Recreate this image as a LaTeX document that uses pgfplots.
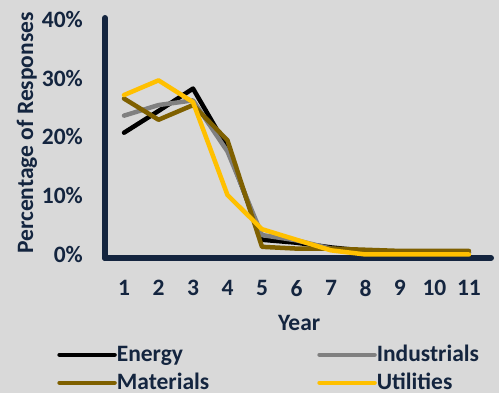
\documentclass[border=0pt]{standalone}
\usepackage{pgfplots}
\pgfplotsset{compat=1.18}
\usepackage{fontspec}
\setmainfont{Carlito}[BoldFont={Carlito Bold}]
\definecolor{bg}{HTML}{D9D9D9}
\definecolor{navy}{HTML}{14253F}
\definecolor{cEnergy}{HTML}{000000}
\definecolor{cInd}{HTML}{808080}
\definecolor{cMat}{HTML}{7F6000}
\definecolor{cUtil}{HTML}{FFC000}
\begin{document}
\begin{tikzpicture}
\fill[bg] (-105bp,-135bp) rectangle (394bp,258bp);
\begin{axis}[
  at={(0,0)}, anchor=south west,
  scale only axis, width=386bp, height=240bp,
  xmin=0.448, xmax=11.64, ymin=-0.6, ymax=40.2,
  axis x line=bottom, axis y line=left,
  axis line style={-, line width=6bp, draw=navy},
  xtick={1,...,11}, ytick={0,10,20,30,40},
  major tick length=0pt,
  font=\fontsize{23.5bp}{28bp}\selectfont\bfseries,
  every tick label/.append style={text=navy, inner sep=0pt},
  yticklabel={\pgfmathprintnumber{\tick}\%},
  /pgf/number format/assume math mode=true,
  yticklabel shift=22bp, xticklabel shift=22bp,
  xlabel={Year}, ylabel={Percentage of Responses},
  label style={text=navy},
  xlabel style={at={(axis description cs:0.503,-0.271)}, anchor=center},
  ylabel style={at={(axis description cs:-0.202,0.521)}, anchor=center, rotate=0},
  line join=round, line cap=round,
  every axis plot/.append style={line width=4.5bp, no markers},
  legend columns=2,
  legend cell align=left,
  legend image code/.code={\draw[#1, line cap=round] (0bp,0bp) -- (55bp,0bp);},
  legend style={draw=none, fill=none, at={(axis description cs:-0.124,-0.365)}, anchor=north west,
    inner sep=0pt, text=navy,
    nodes={inner sep=0pt, text=navy, text height=16bp, text depth=2bp},
    /tikz/every odd column/.append style={column sep=0bp},
    /tikz/every even column/.append style={column sep=108bp},
    row sep=10bp},
]
\addplot[cEnergy] coordinates {(1,20.7) (2,24.4) (3,28.2) (4,18.1) (5,2.5) (6,2.0) (7,1.2) (8,0.6) (9,0.3) (10,0.3) (11,0.3)};
\addlegendentry{Energy}
\addplot[cInd] coordinates {(1,23.6) (2,25.4) (3,26.2) (4,17.5) (5,3.3) (6,2.4) (7,1.0) (8,0.5) (9,0.3) (10,0.3) (11,0.3)};
\addlegendentry{Industrials}
\addplot[cMat] coordinates {(1,26.5) (2,22.9) (3,25.4) (4,19.4) (5,1.3) (6,1.0) (7,1.0) (8,0.8) (9,0.6) (10,0.6) (11,0.6)};
\addlegendentry{Materials}
\addplot[cUtil] coordinates {(1,27.1) (2,29.6) (3,25.9) (4,10.1) (5,4.3) (6,2.5) (7,0.7) (8,0) (9,0) (10,0) (11,0)};
\addlegendentry{Utilities}
\end{axis}
\pgfresetboundingbox
\useasboundingbox (-105bp,-135bp) rectangle (394bp,258bp);
\end{tikzpicture}
\end{document}
